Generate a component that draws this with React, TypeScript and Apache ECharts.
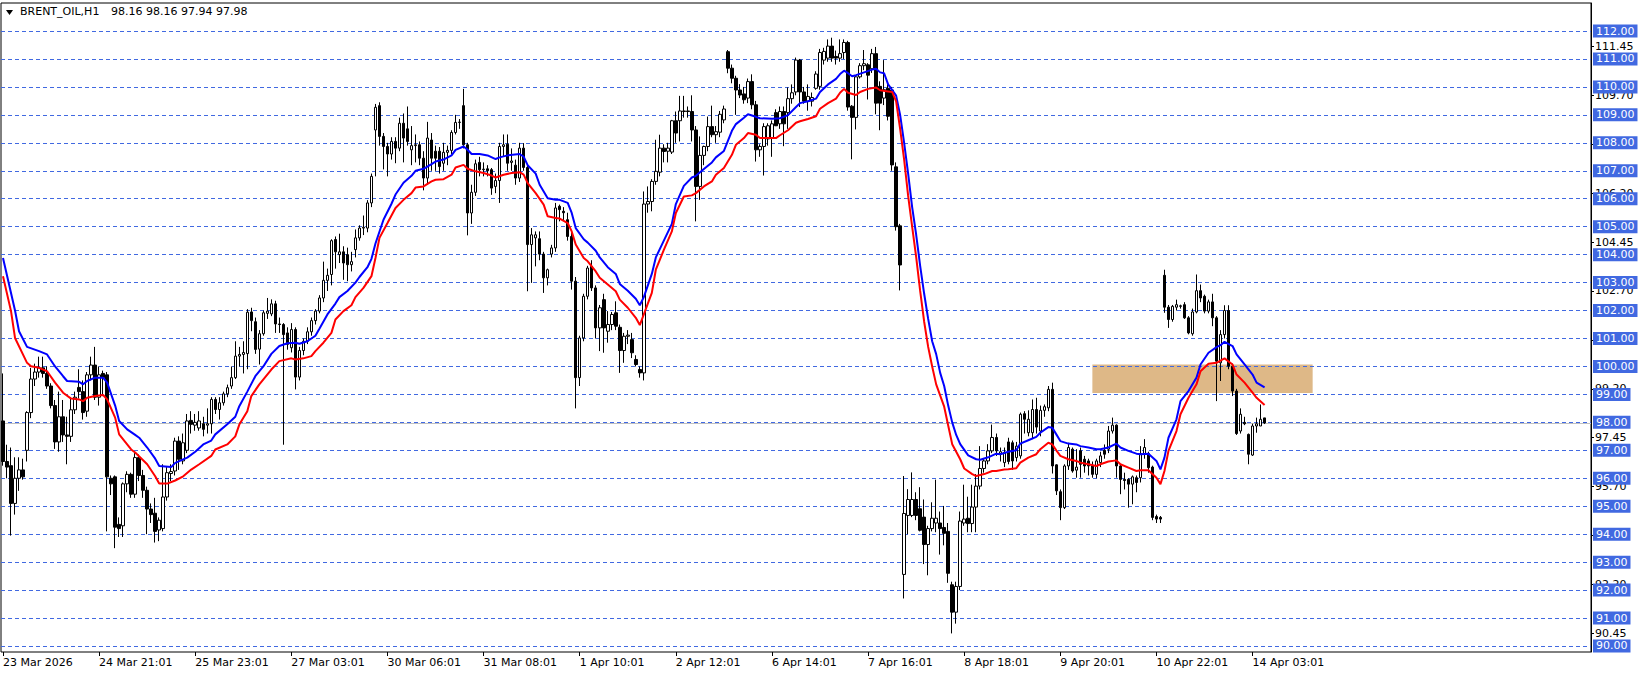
import React, { useEffect, useRef } from 'react';
import * as echarts from 'echarts';

// ---------- data ----------
const symbolName = 'BRENT_OIL,H1';
const lastQuote = [98.16, 98.16, 97.94, 97.98]; // O H L C of the current bar

const timeLabels = [
  '23 Mar 2026', '24 Mar 21:01', '25 Mar 23:01', '27 Mar 03:01', '30 Mar 06:01',
  '31 Mar 08:01', '1 Apr 10:01', '2 Apr 12:01', '6 Apr 14:01', '7 Apr 16:01',
  '8 Apr 18:01', '9 Apr 20:01', '10 Apr 22:01', '14 Apr 03:01',
];
const barsPerLabel = 24;
const slotCount = 397; // visible bar slots including the empty right margin

const levelLines = [90, 91, 92, 93, 94, 95, 96, 97, 98, 99, 100, 101, 102, 103, 104, 105, 106, 107, 108, 109, 110, 111, 112];
const scaleTicks = [90.45, 92.2, 93.95, 95.7, 97.45, 99.2, 100.95, 102.7, 104.45, 106.2, 107.95, 109.7, 111.45];
const bidPrice = 97.98;
const zoneBars = [272, 327];
const zonePrices = [100.07, 99.05];

// [open, high, low, close]
const bars = [
  [98.05, 99.75, 96.45, 96.6], [96.6, 97.2, 96.0, 96.4], [96.45, 97.1, 93.95, 95.1], [95.1, 96.75, 94.7, 96.0],
  [96.0, 96.75, 95.55, 96.3], [96.3, 96.7, 95.95, 96.05], [97.0, 98.4, 96.6, 98.35], [98.35, 99.95, 98.15, 99.55],
  [99.55, 100.1, 99.3, 99.8], [99.8, 100.35, 99.6, 99.95], [99.95, 100.35, 99.6, 99.75], [99.75, 100.0, 99.2, 99.3],
  [99.3, 99.4, 98.5, 98.6], [98.6, 98.8, 97.05, 97.3], [97.3, 99.1, 96.95, 98.2], [98.2, 98.8, 97.3, 97.55],
  [97.55, 98.2, 96.5, 97.5], [97.5, 98.9, 97.3, 98.45], [98.45, 99.1, 98.3, 98.9], [99.25, 99.9, 98.85, 99.1],
  [99.1, 99.5, 98.1, 98.35], [98.4, 99.8, 98.2, 99.7], [99.7, 100.35, 99.5, 100.05], [100.05, 100.7, 98.8, 98.9],
  [98.9, 100.0, 98.6, 99.7], [99.75, 99.85, 99.0, 99.6], [99.7, 99.8, 94.1, 96.05], [96.0, 96.1, 95.4, 95.8],
  [96.05, 96.1, 93.5, 94.25], [94.35, 94.6, 93.9, 94.2], [94.3, 95.85, 93.9, 95.8], [95.8, 96.25, 95.5, 96.14],
  [96.14, 96.2, 95.3, 95.43], [95.43, 96.9, 95.3, 96.74], [96.74, 96.85, 95.9, 96.1], [96.1, 96.3, 95.3, 95.57],
  [95.57, 95.7, 94.0, 94.9], [94.9, 95.1, 94.4, 94.7], [94.75, 95.3, 93.7, 94.1], [94.15, 94.6, 93.75, 94.5],
  [94.2, 96.5, 94.1, 95.33], [95.33, 96.4, 95.2, 96.2], [96.17, 96.5, 95.9, 96.24], [96.26, 97.45, 96.1, 97.33],
  [97.33, 97.5, 96.3, 96.68], [96.62, 97.6, 96.5, 97.27], [97.0, 98.3, 96.9, 98.05], [98.07, 98.4, 97.6, 97.93],
  [97.9, 98.3, 97.7, 98.0], [97.8, 98.4, 97.7, 98.05], [97.95, 98.2, 97.5, 97.75], [97.9, 98.5, 97.6, 97.95],
  [97.95, 98.9, 97.6, 98.82], [98.82, 98.9, 98.3, 98.46], [98.46, 98.9, 98.1, 98.7], [98.7, 99.1, 98.6, 99.02],
  [99.02, 99.35, 98.9, 99.24], [99.3, 100.0, 99.2, 99.6], [99.6, 100.9, 99.55, 100.37], [100.37, 100.7, 100.0, 100.43],
  [100.43, 100.9, 99.75, 100.5], [100.46, 102.05, 99.9, 101.94],
  [101.95, 102.1, 101.26, 101.64], [101.6, 101.75, 100.45, 100.61], [100.62, 101.3, 100.07, 101.17], [101.17, 102.0, 101.1, 101.92],
  [101.9, 102.45, 101.7, 101.98], [101.88, 102.4, 101.8, 102.24], [102.24, 102.35, 101.2, 101.52], [101.52, 101.75, 101.2, 101.5],
  [101.5, 101.55, 97.2, 101.14], [101.2, 101.4, 100.6, 100.79], [100.67, 101.55, 100.5, 101.32], [101.32, 101.4, 99.18, 99.62],
  [99.62, 100.7, 99.5, 100.57], [100.57, 101.0, 100.4, 100.9], [100.9, 101.4, 100.8, 101.24], [101.24, 101.75, 101.1, 101.64],
  [101.64, 102.05, 101.5, 101.98], [101.98, 102.55, 101.9, 102.45], [102.45, 103.75, 102.3, 103.08], [103.08, 103.5, 102.7, 103.26],
  [103.29, 104.55, 102.9, 104.5], [104.54, 104.65, 103.5, 104.1], [104.0, 104.75, 103.7, 104.1], [104.1, 104.3, 103.1, 103.7],
  [104.0, 104.25, 103.05, 103.64], [103.64, 104.1, 103.4, 103.75], [104.18, 104.9, 103.9, 104.6], [104.6, 105.05, 104.5, 104.95],
  [104.95, 105.4, 104.7, 104.98], [104.95, 105.95, 104.8, 105.85], [105.85, 106.9, 105.7, 106.8], [108.46, 109.39, 106.8, 109.27],
  [109.33, 109.45, 107.9, 108.23], [108.23, 108.35, 107.05, 107.87], [107.87, 108.0, 106.8, 107.6], [107.6, 108.2, 107.4, 108.05],
  [108.05, 108.2, 107.27, 107.81], [107.81, 108.9, 107.7, 108.7], [108.7, 109.05, 107.3, 108.17], [108.5, 109.3, 107.9, 108.05],
  [107.75, 108.6, 107.2, 107.9], [107.9, 108.3, 107.3, 107.93], [107.93, 108.05, 107.2, 107.45], [107.45, 107.7, 106.3, 106.74],
  [106.74, 108.75, 106.5, 108.17], [108.1, 108.35, 107.0, 107.45], [107.7, 107.9, 107.0, 107.45], [107.7, 107.85, 106.9, 107.15],
  [107.27, 108.0, 107.0, 107.66], [107.66, 107.9, 107.2, 107.73], [107.73, 108.45, 107.6, 108.37], [108.37, 109.0, 108.3, 108.73],
  [108.73, 108.85, 108.5, 108.74], [109.33, 109.93, 107.8, 107.93], [107.93, 108.0, 104.69, 105.49], [105.49, 106.5, 105.1, 106.23],
  [106.23, 107.4, 106.1, 107.25], [107.3, 107.5, 106.8, 107.04], [107.04, 107.3, 106.8, 107.06], [107.07, 107.2, 106.8, 107.0],
  [107.04, 107.1, 106.14, 106.38], [106.44, 106.9, 106.2, 106.65], [106.65, 108.0, 105.85, 107.87], [107.87, 108.3, 107.5, 107.93],
  [107.95, 108.3, 107.0, 107.27], [107.3, 107.8, 107.0, 107.35], [107.2, 107.4, 106.5, 106.74], [106.74, 108.0, 106.6, 107.81],
  [107.81, 107.99, 107.0, 107.12], [107.12, 107.2, 102.69, 104.36], [104.36, 104.95, 102.99, 104.71], [104.6, 104.83, 103.58, 104.71],
  [104.57, 104.83, 103.8, 104.02], [104.02, 104.1, 102.63, 103.17], [103.17, 103.5, 102.9, 103.46], [104.02, 104.35, 103.9, 104.24],
  [104.24, 105.85, 104.1, 105.67], [105.73, 105.79, 105.19, 105.61], [105.55, 105.7, 105.2, 105.5], [105.25, 105.5, 104.5, 104.65],
  [104.65, 104.8, 102.75, 103.05], [103.05, 103.2, 98.5, 99.6], [99.6, 101.1, 99.3, 101.02], [101.02, 102.6, 100.9, 102.51],
  [102.51, 103.6, 102.4, 103.52], [103.58, 103.8, 102.7, 102.81], [102.81, 102.9, 101.0, 101.38], [101.38, 102.2, 100.55, 102.1],
  [102.39, 102.6, 100.49, 101.38], [101.26, 101.98, 100.85, 101.5], [101.5, 101.95, 101.3, 101.86], [101.92, 102.33, 101.3, 101.44],
  [101.4, 101.5, 99.77, 100.57], [100.57, 101.2, 100.13, 101.08], [101.08, 101.3, 100.8, 101.12], [100.96, 101.2, 100.3, 100.49],
  [100.25, 100.4, 100.0, 100.07], [99.89, 100.0, 99.6, 99.77], [99.77, 106.26, 99.5, 105.81], [105.81, 106.44, 105.5, 105.9],
  [105.9, 106.7, 105.55, 106.62], [106.62, 108.11, 106.5, 106.98], [106.95, 108.29, 106.8, 107.81], [107.81, 107.95, 107.3, 107.69],
  [107.7, 108.0, 107.3, 107.81], [107.67, 108.82, 107.6, 108.79], [108.79, 109.12, 108.0, 108.35], [108.79, 109.68, 108.05, 109.14],
  [109.12, 109.68, 108.9, 109.14], [109.14, 109.3, 108.9, 109.12], [109.12, 109.7, 108.05, 108.46], [108.46, 108.6, 105.19, 106.44],
  [106.44, 108.23, 105.96, 107.55], [107.55, 107.9, 107.2, 107.87], [107.87, 108.94, 107.7, 108.58], [108.58, 109.33, 108.2, 108.29],
  [108.29, 108.6, 108.0, 108.4], [108.38, 109.14, 108.2, 109.02], [108.82, 109.33, 108.7, 109.21], [111.26, 111.32, 110.49, 110.67],
  [110.67, 110.8, 110.13, 110.31], [110.31, 110.4, 109.0, 109.89], [109.89, 110.1, 109.6, 109.71], [109.75, 110.0, 109.4, 109.54],
  [109.6, 110.3, 109.42, 110.19], [110.19, 110.45, 109.2, 109.36], [109.36, 109.5, 107.33, 107.75], [107.75, 107.95, 107.5, 107.87],
  [107.87, 108.7, 106.83, 108.58],
  [108.14, 108.7, 107.9, 108.61], [108.17, 108.8, 107.5, 108.68], [109.08, 109.2, 108.6, 108.61], [108.68, 109.3, 108.5, 109.12],
  [109.12, 109.3, 107.88, 108.68], [109.08, 109.98, 108.5, 109.58], [109.58, 110.09, 109.4, 109.79], [109.82, 111.05, 109.7, 110.96],
  [110.96, 111.0, 109.28, 109.82], [109.82, 110.0, 109.4, 109.49], [109.49, 110.09, 109.15, 109.66], [109.49, 109.8, 109.3, 109.62],
  [109.95, 110.56, 109.9, 110.46], [110.02, 111.36, 109.9, 111.23], [110.96, 111.4, 110.8, 111.27], [111.03, 111.7, 110.9, 111.46],
  [111.46, 111.76, 110.9, 111.03], [111.09, 111.3, 110.8, 111.03], [111.03, 111.7, 110.9, 111.19], [111.23, 111.7, 111.0, 111.59],
  [111.59, 111.65, 109.15, 109.28], [109.31, 109.35, 107.41, 108.91], [108.91, 110.4, 108.48, 110.36], [110.36, 110.85, 110.3, 110.76],
  [110.76, 111.32, 110.6, 110.83], [110.79, 110.85, 109.55, 110.42], [110.65, 111.36, 110.5, 111.19], [111.19, 111.43, 109.02, 109.42],
  [110.02, 110.2, 108.45, 109.42], [109.6, 110.96, 109.35, 109.9], [109.95, 110.1, 108.8, 108.95], [109.89, 110.0, 107.0, 107.21],
  [107.14, 107.3, 104.86, 105.0], [105.03, 105.1, 102.72, 103.63],
  [92.56, 96.08, 91.7, 94.74], [94.67, 95.61, 94.0, 95.24], [94.67, 96.21, 94.61, 95.24], [95.24, 95.5, 94.5, 94.67],
  [94.91, 95.68, 94.1, 94.14], [94.61, 95.24, 92.93, 93.63], [93.63, 94.3, 92.53, 94.2], [94.2, 95.14, 94.1, 94.57],
  [94.4, 95.95, 94.07, 94.57], [94.4, 94.81, 93.27, 94.2], [94.24, 95.01, 93.6, 94.03], [94.1, 94.4, 92.26, 92.6],
  [92.19, 92.3, 90.45, 91.21], [91.21, 92.3, 90.8, 92.13], [92.13, 94.81, 92.0, 94.47], [94.4, 95.77, 94.3, 94.54],
  [94.57, 95.34, 94.07, 94.38], [94.38, 95.77, 94.07, 94.97], [94.97, 96.15, 94.07, 95.72], [95.72, 97.15, 95.6, 96.35],
  [96.35, 96.7, 96.2, 96.62], [96.62, 97.22, 96.5, 96.98], [96.98, 97.92, 96.9, 97.46], [97.46, 97.6, 96.8, 96.98],
  [96.88, 97.1, 96.6, 96.95],
  [96.56, 97.1, 96.4, 96.92], [97.3, 97.45, 96.5, 96.6], [97.27, 97.35, 96.3, 96.62], [96.74, 97.3, 96.6, 97.15],
  [96.8, 98.35, 96.7, 98.29], [98.31, 98.4, 97.6, 98.11], [97.63, 98.43, 97.5, 98.11], [97.63, 98.82, 97.4, 98.46],
  [98.46, 98.88, 97.6, 97.83], [97.69, 98.6, 97.5, 98.43], [98.43, 98.64, 98.2, 98.56], [98.52, 99.3, 98.4, 99.18],
  [99.18, 99.42, 96.17, 96.44], [96.48, 96.5, 95.4, 95.55], [95.52, 95.6, 94.5, 94.95], [94.95, 96.5, 94.9, 96.44],
  [96.44, 97.27, 96.3, 97.1], [97.04, 97.1, 96.2, 96.26], [96.29, 97.04, 96.02, 96.4], [96.98, 97.1, 96.02, 96.5],
  [96.68, 96.8, 96.2, 96.44], [96.62, 96.7, 96.1, 96.44], [96.44, 96.6, 96.02, 96.14], [96.14, 96.7, 96.0, 96.62],
  [96.56, 96.95, 96.4, 96.8], [97.0, 97.21, 96.7, 96.86], [97.04, 97.87, 96.9, 97.69], [97.69, 98.17, 97.6, 97.9],
  [97.9, 97.93, 96.02, 96.44], [96.44, 96.5, 95.43, 95.96], [95.96, 96.2, 95.6, 95.92], [95.96, 96.0, 94.95, 95.79],
  [95.79, 96.1, 95.07, 96.05], [96.02, 96.1, 95.5, 95.85], [96.02, 97.15, 95.85, 96.88], [96.88, 97.4, 96.7, 97.1],
  [96.88, 96.95, 96.2, 96.38], [96.4, 96.45, 94.5, 94.6], [94.63, 94.7, 94.4, 94.54], [94.6, 94.65, 94.4, 94.54],
  [103.26, 103.46, 101.92, 102.12], [102.12, 102.2, 101.38, 101.68], [101.68, 102.2, 101.6, 102.15], [102.12, 102.39, 102.0, 102.21],
  [102.15, 102.21, 102.07, 102.17], [102.21, 102.3, 101.7, 101.74], [101.74, 101.8, 101.15, 101.2], [101.17, 102.07, 101.1, 101.95],
  [101.95, 103.29, 101.9, 102.71], [102.71, 102.93, 102.3, 102.45], [102.51, 102.57, 101.9, 101.98], [101.98, 102.39, 101.9, 102.31],
  [102.31, 102.6, 101.44, 101.74], [101.74, 101.8, 98.76, 100.19], [100.13, 101.3, 99.48, 101.14], [101.14, 102.19, 101.0, 102.0],
  [102.0, 102.19, 99.9, 100.01], [100.01, 100.1, 98.94, 99.12], [99.12, 99.2, 97.55, 97.6], [97.69, 98.5, 97.6, 98.29],
  [98.0, 98.2, 97.9, 97.95], [97.57, 97.6, 96.5, 96.86], [96.83, 97.95, 96.8, 97.87], [97.87, 98.17, 97.63, 97.95],
  [97.87, 98.64, 97.87, 98.11], [98.16, 98.16, 97.94, 97.98],
];

// moving averages: [bar index, price]
const maBlue = [
  [0, 103.88], [3, 102.0], [4, 101.26], [6, 100.7], [9, 100.55], [11, 100.43], [13, 100.0], [15, 99.65], [16, 99.48], [19, 99.45],
  [20, 99.36], [21, 99.48], [23, 99.6], [25, 99.6], [26, 99.42], [28, 98.6], [29, 98.05], [31, 97.75], [33, 97.55], [34, 97.45],
  [36, 97.1], [38, 96.7], [39, 96.44], [42, 96.4], [43, 96.55], [46, 96.74], [48, 96.95], [50, 97.21], [52, 97.35], [53, 97.57],
  [56, 97.93], [58, 98.2], [59, 98.58], [61, 99.1], [63, 99.65], [65, 100.0], [67, 100.45], [69, 100.73], [71, 100.83], [73, 100.85],
  [74, 100.81], [76, 100.9], [78, 101.1], [79, 101.35], [81, 101.86], [83, 102.25], [84, 102.48], [86, 102.7], [88, 103.0], [89, 103.2],
  [91, 103.55], [92, 103.85], [93, 104.4], [95, 105.25], [97, 105.82], [98, 106.15], [100, 106.57], [102, 106.82], [103, 107.0], [105, 107.07],
  [107, 107.24], [108, 107.33], [110, 107.4], [112, 107.55], [113, 107.75], [115, 107.87], [116, 107.75], [117, 107.6], [119, 107.6], [121, 107.55],
  [123, 107.42], [124, 107.48], [126, 107.55], [129, 107.6], [130, 107.5], [131, 107.2], [133, 106.9], [134, 106.5], [136, 106.02], [138, 105.96],
  [139, 105.96], [141, 105.85], [142, 105.49], [143, 104.95], [145, 104.55], [146, 104.43], [148, 104.14], [149, 103.9], [151, 103.55], [153, 103.31],
  [154, 102.95], [156, 102.71], [158, 102.42], [159, 102.19], [160, 102.48], [162, 103.31], [163, 103.9], [165, 104.5], [167, 105.1], [168, 105.81],
  [170, 106.46], [172, 106.76], [173, 106.82], [175, 107.06], [177, 107.3], [178, 107.48], [180, 107.71], [182, 108.43], [183, 108.67], [185, 108.9],
  [186, 109.02], [188, 108.93], [189, 108.88], [192, 108.86], [194, 108.88], [196, 108.99], [198, 109.28], [199, 109.42], [201, 109.49], [203, 109.58],
  [204, 109.82], [206, 110.09], [208, 110.29], [209, 110.46], [210, 110.58], [211, 110.49], [212, 110.38], [213, 110.42], [215, 110.52], [217, 110.62],
  [218, 110.65], [219, 110.52], [220, 110.49], [221, 110.09], [223, 109.69], [224, 109.0], [225, 108.0], [226, 106.9], [227, 105.7], [228, 104.72],
  [229, 103.6], [230, 102.6], [231, 101.7], [232, 100.9], [233, 100.44], [234, 99.77], [235, 99.3], [236, 98.6], [237, 98.0], [238, 97.55],
  [239, 97.22], [241, 96.82], [243, 96.68], [244, 96.66], [246, 96.75], [248, 96.88], [249, 96.86], [251, 96.95], [253, 97.0], [254, 97.24],
  [256, 97.36], [258, 97.48], [259, 97.63], [261, 97.83], [262, 97.81], [263, 97.57], [264, 97.33], [266, 97.24], [268, 97.21], [269, 97.15],
  [271, 97.1], [273, 97.04], [274, 97.04], [276, 97.1], [278, 97.24], [279, 97.1], [281, 96.98], [283, 96.88], [284, 96.86], [286, 96.88],
  [288, 96.62], [289, 96.32], [290, 96.74], [291, 97.45], [293, 98.11], [294, 98.76], [296, 99.12], [298, 99.6], [299, 100.07], [301, 100.49],
  [303, 100.69], [304, 100.76], [305, 100.88], [307, 100.73], [308, 100.43], [310, 100.07], [312, 99.71], [313, 99.42], [315, 99.25],
];
const maRed = [
  [0, 103.23], [2, 101.98], [3, 101.02], [6, 100.13], [7, 100.01], [9, 99.95], [11, 99.83], [13, 99.42], [15, 99.06], [17, 98.85],
  [19, 98.82], [20, 98.76], [21, 98.88], [23, 98.94], [25, 98.98], [26, 98.82], [28, 98.17], [29, 97.57], [32, 97.03], [33, 96.92],
  [36, 96.5], [38, 96.07], [39, 95.81], [41, 95.81], [43, 95.92], [45, 96.07], [47, 96.31], [49, 96.5], [52, 96.8], [53, 97.03],
  [56, 97.21], [58, 97.5], [59, 97.92], [61, 98.4], [62, 98.94], [64, 99.36], [67, 99.89], [69, 100.19], [72, 100.29], [73, 100.25],
  [75, 100.29], [77, 100.37], [78, 100.55], [80, 100.85], [82, 101.2], [83, 101.68], [85, 101.98], [87, 102.19], [88, 102.48], [90, 102.81],
  [92, 103.23], [93, 103.88], [94, 104.6], [96, 105.13], [98, 105.67], [100, 105.96], [102, 106.2], [103, 106.4], [105, 106.44], [107, 106.62],
  [108, 106.68], [110, 106.7], [112, 106.86], [113, 107.12], [115, 107.21], [116, 107.07], [118, 106.98], [120, 106.92], [122, 106.83], [123, 106.76],
  [125, 106.86], [127, 106.92], [129, 106.95], [130, 106.86], [131, 106.56], [133, 106.2], [135, 105.79], [136, 105.37], [138, 105.31], [139, 105.29],
  [141, 105.13], [142, 104.83], [143, 104.36], [145, 103.88], [146, 103.76], [148, 103.4], [149, 103.17], [151, 102.93], [153, 102.69], [154, 102.39],
  [156, 102.1], [158, 101.74], [159, 101.48], [160, 101.86], [162, 102.63], [163, 103.46], [165, 104.17], [167, 104.83], [168, 105.49], [170, 106.08],
  [172, 106.12], [173, 106.2], [175, 106.44], [177, 106.62], [178, 106.86], [180, 107.1], [182, 107.57], [183, 107.93], [185, 108.17], [186, 108.35],
  [188, 108.29], [189, 108.17], [193, 108.17], [194, 108.27], [196, 108.45], [198, 108.72], [199, 108.77], [201, 108.85], [203, 108.95], [204, 109.22],
  [206, 109.42], [208, 109.58], [209, 109.79], [210, 109.93], [211, 109.79], [213, 109.71], [214, 109.82], [216, 109.93], [218, 109.98], [219, 109.88],
  [221, 109.84], [222, 109.82], [223, 109.48], [224, 108.5], [225, 107.4], [226, 106.1], [227, 105.0], [228, 103.92], [229, 102.7], [230, 101.6],
  [231, 100.7], [232, 100.0], [233, 99.36], [235, 98.56], [236, 97.89], [237, 97.22], [239, 96.68], [240, 96.35], [242, 96.15], [243, 96.08],
  [245, 96.15], [247, 96.26], [248, 96.26], [250, 96.31], [251, 96.32], [253, 96.36], [254, 96.56], [256, 96.74], [258, 96.86], [259, 97.04],
  [261, 97.27], [262, 97.21], [263, 97.0], [264, 96.8], [266, 96.68], [268, 96.62], [269, 96.56], [271, 96.5], [273, 96.44], [274, 96.5],
  [276, 96.6], [278, 96.64], [279, 96.5], [281, 96.38], [283, 96.26], [284, 96.29], [286, 96.29], [288, 96.02], [289, 95.79], [290, 96.26],
  [291, 96.98], [293, 97.69], [294, 98.29], [296, 98.88], [298, 99.36], [299, 99.83], [301, 100.1], [303, 100.13], [304, 100.21], [305, 100.29],
  [307, 100.07], [308, 99.71], [310, 99.42], [312, 99.06], [313, 98.88], [315, 98.62],
];

// ---------- chart ----------
const FONT = 'DejaVu Sans';
const LEVEL_BLUE = '#4169E1';

export default function App() {
  const ref = useRef<HTMLDivElement>(null);

  useEffect(() => {
    if (!ref.current) return;
    const chart = echarts.init(ref.current, undefined, { renderer: 'svg' });

    const categories: string[] = Array.from({ length: slotCount }, (_, i) =>
      i % barsPerLabel === 0 && i / barsPerLabel < timeLabels.length ? timeLabels[i / barsPerLabel] : ''
    );
    const candleData = bars.map(([o, h, l, c]) => [o, c, l, h]);

    const levelData: any[] = levelLines.map((v) => ({
      yAxis: v,
      lineStyle: { color: LEVEL_BLUE, type: [4, 3], width: 1 },
      label: {
        show: true,
        position: 'end',
        distance: 2,
        formatter: (p: any) => Number(p.value).toFixed(2),
        color: '#ffffff',
        backgroundColor: LEVEL_BLUE,
        padding: [1, 3, 0, 3],
        fontSize: 11,
        lineHeight: 12,
        fontFamily: FONT,
      },
    }));
    levelData.push({
      yAxis: bidPrice,
      lineStyle: { color: '#c0c0c0', type: 'solid', width: 1 },
      label: { show: false },
    });

    const option: any = {
      animation: false,
      backgroundColor: '#ffffff',
      textStyle: { fontFamily: FONT },
      grid: {
        left: 1,
        top: 3,
        width: 1590,
        height: 649,
        show: true,
        borderColor: '#000000',
        borderWidth: 1,
        backgroundColor: '#ffffff',
      },
      graphic: [
        { type: 'polygon', shape: { points: [[6, 10], [13, 10], [9.5, 15]] }, style: { fill: '#000' } },
        { type: 'text', left: 20, top: 6, style: { text: symbolName, fontSize: 11, fontFamily: FONT, fill: '#000' } },
        {
          type: 'text',
          left: 111,
          top: 6,
          style: { text: lastQuote.map((v) => v.toFixed(2)).join(' '), fontSize: 11, fontFamily: FONT, fill: '#000' },
        },
      ],
      xAxis: {
        type: 'category',
        data: categories,
        boundaryGap: true,
        axisLine: { show: false },
        axisTick: {
          show: true,
          alignWithLabel: true,
          length: 4,
          interval: (i: number) => categories[i] !== '',
          lineStyle: { color: '#000' },
        },
        axisLabel: {
          interval: (i: number) => categories[i] !== '',
          align: 'left',
          color: '#000',
          fontSize: 11,
          fontFamily: FONT,
          margin: 5,
        },
        splitLine: { show: false },
      },
      yAxis: {
        type: 'value',
        position: 'right',
        min: 89.785,
        max: 113.002,
        axisLine: { show: true, lineStyle: { color: '#000' } },
        axisTick: { show: true, length: 3, customValues: scaleTicks, lineStyle: { color: '#000' } },
        axisLabel: {
          customValues: scaleTicks,
          formatter: (v: number) => v.toFixed(2),
          color: '#000',
          fontSize: 11,
          fontFamily: FONT,
          margin: 4,
        },
        splitLine: { show: false },
      },
      series: [
        {
          type: 'candlestick',
          data: candleData,
          barWidth: 3,
          clip: false,
          silent: true,
          itemStyle: {
            color: '#ffffff',
            color0: '#000000',
            borderColor: '#000000',
            borderColor0: '#000000',
            borderWidth: 1,
          },
          markLine: {
            silent: true,
            symbol: ['none', 'none'],
            z: 1,
            data: levelData,
          },
          markArea: {
            silent: true,
            z: 0,
            itemStyle: { color: '#DEB887', opacity: 1 },
            data: [[{ xAxis: zoneBars[0], yAxis: zonePrices[0] }, { xAxis: zoneBars[1], yAxis: zonePrices[1] }]],
          },
          z: 2,
        },
        {
          type: 'line',
          data: maBlue,
          showSymbol: false,
          silent: true,
          lineStyle: { color: '#0000ff', width: 2 },
          z: 3,
        },
        {
          type: 'line',
          data: maRed,
          showSymbol: false,
          silent: true,
          lineStyle: { color: '#ff0000', width: 2 },
          z: 3,
        },
      ],
    };

    chart.setOption(option);
    return () => chart.dispose();
  }, []);

  return (
    <div
      ref={ref}
      style={{ position: 'fixed', left: 0, top: 0, width: 1641, height: 676, background: '#fff' }}
    />
  );
}
